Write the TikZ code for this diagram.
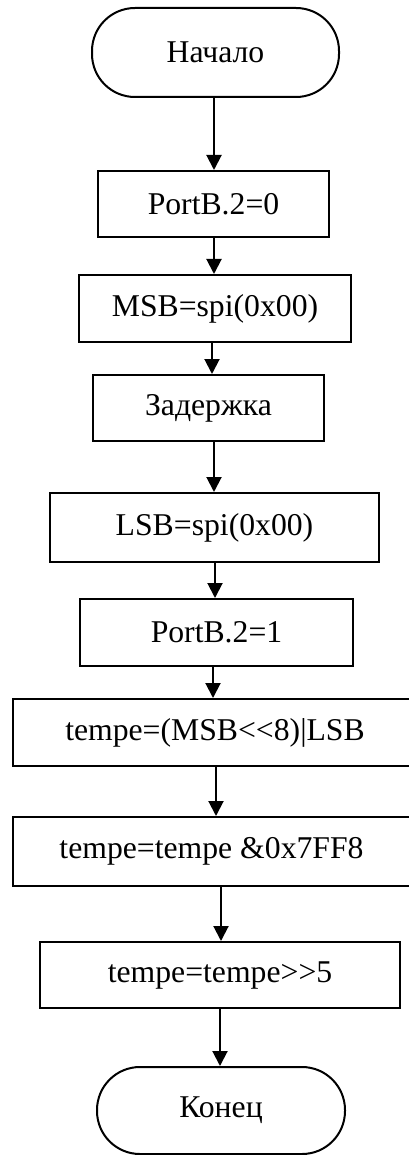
\documentclass[tikz,border=0pt]{standalone}
\usepackage{fontspec}
\setmainfont{Liberation Serif}
\usetikzlibrary{arrows.meta}
\begin{document}
\begin{tikzpicture}[x=1pt,y=-1pt,
  every node/.style={font=\fontsize{31.7}{38}\selectfont, inner sep=0pt, line width=2pt},
  box/.style={draw, rectangle},
  term/.style={draw, rectangle, rounded corners=43pt},
  arr/.style={line width=2pt, -{Triangle[length=15pt,width=15pt]}}]
\useasboundingbox (0,0) rectangle (409,1155);
\node[term, minimum width=247pt, minimum height=89pt] (start) at (215.5,52.5) {Начало};
\node[box, minimum width=231pt, minimum height=66pt] (p0) at (213.5,204) {PortB.2=0};
\node[box, minimum width=272pt, minimum height=67pt] (msb) at (215,308.5) {MSB=spi(0x00)};
\node[box, minimum width=231pt, minimum height=66pt] (zd) at (208.5,408) {Задержка};
\node[box, minimum width=329pt, minimum height=69pt] (lsb) at (214.5,527.5) {LSB=spi(0x00)};
\node[box, minimum width=273pt, minimum height=67pt] (p1) at (216.5,632.5) {PortB.2=1};
\node[box, minimum width=404pt, minimum height=67pt] (t1) at (215,732.5) {tempe=(MSB<{}<8)|LSB};
\node[box, minimum width=397pt, minimum height=69pt] (t2) at (211.5,851.5) {tempe=tempe \&0x7FF8};
\node[box, minimum width=360pt, minimum height=66pt] (t3) at (220,975) {tempe=tempe>{}>5};
\node[term, minimum width=248pt, minimum height=87pt] (end) at (221,1110.5) {Конец};
\coordinate (a1) at (214,0);
\coordinate (a2) at (214,0);
\coordinate (a3) at (212,0);
\coordinate (a4) at (214,0);
\coordinate (a5) at (215,0);
\coordinate (a6) at (213,0);
\coordinate (a7) at (216,0);
\coordinate (a8) at (221,0);
\coordinate (a9) at (220,0);
\draw[arr] (start.south -| a1) -- (p0.north -| a1);
\draw[arr] (p0.south -| a2) -- (msb.north -| a2);
\draw[arr] (msb.south -| a3) -- (zd.north -| a3);
\draw[arr] (zd.south -| a4) -- (lsb.north -| a4);
\draw[arr] (lsb.south -| a5) -- (p1.north -| a5);
\draw[arr] (p1.south -| a6) -- (t1.north -| a6);
\draw[arr] (t1.south -| a7) -- (t2.north -| a7);
\draw[arr] (t2.south -| a8) -- (t3.north -| a8);
\draw[arr] (t3.south -| a9) -- (end.north -| a9);
\end{tikzpicture}
\end{document}
